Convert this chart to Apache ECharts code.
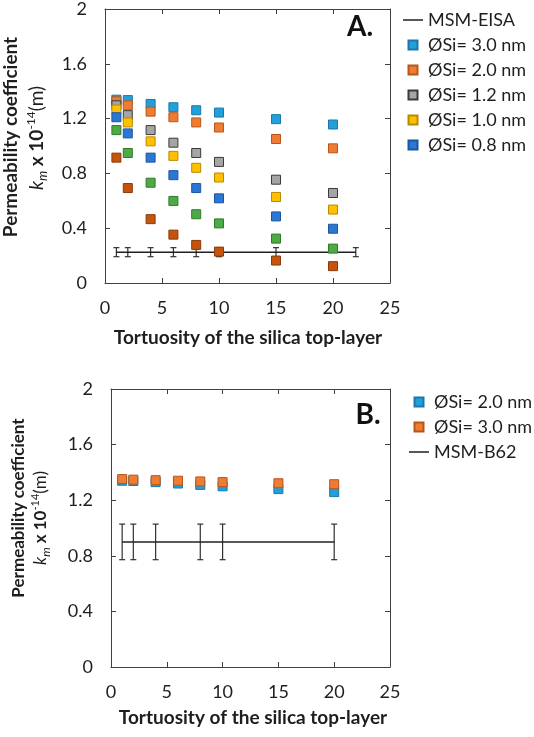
<!DOCTYPE html>
<html>
<head>
<meta charset="utf-8">
<script src="https://cdn.jsdelivr.net/npm/echarts@6/dist/echarts.min.js"></script>
<style>html,body{margin:0;padding:0;background:#fff}#c{width:534px;height:737px}</style>
</head>
<body>
<div id="c"></div>
<script>
// ---- Data: panel A ----
const xA = [1, 2, 4, 6, 8, 10, 15, 20];
const a30 = [1.338, 1.335, 1.307, 1.283, 1.261, 1.244, 1.196, 1.157];
const a20 = [1.326, 1.297, 1.251, 1.210, 1.172, 1.135, 1.051, 0.983];
const a12 = [1.297, 1.225, 1.116, 1.024, 0.949, 0.884, 0.754, 0.657];
const a10 = [1.266, 1.172, 1.034, 0.928, 0.841, 0.770, 0.628, 0.536];
const a08 = [1.210, 1.092, 0.915, 0.787, 0.693, 0.618, 0.486, 0.396];
const aGreen = [1.116, 0.949, 0.732, 0.599, 0.502, 0.435, 0.324, 0.251];
const aBrown = [0.915, 0.693, 0.466, 0.353, 0.278, 0.229, 0.164, 0.123];
const eisaX = [1, 22];
const eisaY = 0.225;
const eisaErrX = [1, 2, 4, 6, 8, 10, 15, 22];
const eisaErr = 0.033;

// ---- Data: panel B ----
const xB = [1, 2, 4, 6, 8, 10, 15, 20];
const b20 = [1.340, 1.338, 1.330, 1.320, 1.310, 1.300, 1.280, 1.258];
const b30 = [1.352, 1.348, 1.344, 1.340, 1.335, 1.330, 1.322, 1.315];
const b62X = [1, 20];
const b62Y = 0.90;
const b62ErrX = [1, 2, 4, 8, 10, 20];
const b62Err = 0.128;

// ---- Axis ticks ----
const xMin = 0, xMax = 25, xStep = 5;
const yMin = 0, yMax = 2, yStep = 0.4;

const FONT = 'Lato';
const AX = '#404040';
const TXT = '#1e1e1e';

function pts(xs, ys) { return xs.map((x, i) => [x, ys[i]]); }

function xAx(g, pos, lab) {
  return {
    type: 'value', gridIndex: g, position: pos, min: xMin, max: xMax, interval: xStep,
    axisLine: { show: true, onZero: false, lineStyle: { color: AX, width: 1 } },
    axisTick: { show: true, inside: true, length: 5, lineStyle: { color: AX, width: 1 } },
    axisLabel: { show: lab, fontFamily: FONT, fontSize: 18, color: TXT, margin: 16 },
    splitLine: { show: false }
  };
}
function yAx(g, pos, lab) {
  return {
    type: 'value', gridIndex: g, position: pos, min: yMin, max: yMax, interval: yStep,
    axisLine: { show: true, onZero: false, lineStyle: { color: AX, width: 1 } },
    axisTick: { show: true, inside: true, length: 5, lineStyle: { color: AX, width: 1 } },
    axisLabel: { show: lab, fontFamily: FONT, fontSize: 18, color: TXT, margin: 18 },
    splitLine: { show: false }
  };
}

function sq(name, data, color, border, xi, yi, z) {
  return {
    type: 'scatter', name: name, xAxisIndex: xi, yAxisIndex: yi, data: data,
    symbol: 'rect', symbolSize: 9, z: z || 3,
    itemStyle: { color: color, borderColor: border, borderWidth: 1, opacity: 1 }
  };
}

function errSeries(xs, y, e, xi, yi) {
  return {
    type: 'custom', xAxisIndex: xi, yAxisIndex: yi, z: 1, silent: true,
    data: xs.map(x => [x, y - e, y + e]),
    renderItem: function (params, api) {
      const lo = api.coord([api.value(0), api.value(1)]);
      const hi = api.coord([api.value(0), api.value(2)]);
      const w = 3;
      const st = { stroke: '#303030', lineWidth: 1.2 };
      return {
        type: 'group', children: [
          { type: 'line', shape: { x1: lo[0], y1: lo[1], x2: hi[0], y2: hi[1] }, style: st },
          { type: 'line', shape: { x1: lo[0] - w, y1: lo[1], x2: lo[0] + w, y2: lo[1] }, style: st },
          { type: 'line', shape: { x1: hi[0] - w, y1: hi[1], x2: hi[0] + w, y2: hi[1] }, style: st }
        ]
      };
    }
  };
}

const SQ = 'path://M0,0L10,0L10,10L0,10Z';
const LN = 'path://M0,0L40,0L40,3L0,3Z';
const lnItem = { color: '#202020', borderWidth: 0 };
const C30 = '#22A0DC', C30b = '#1a78a8';
const C20 = '#EE7D33', C20b = '#b8561a';
const C12 = '#A5A5A5', C12b = '#3a3a3a';
const C10 = '#FFC000', C10b = '#b88a00';
const C08 = '#2B77D4', C08b = '#1d55a0';
const CGr = '#4EAA46', CGrb = '#2e7a2a';
const CBr = '#C4540E', CBrb = '#8a3a08';

const legendText = { fontFamily: FONT, fontSize: 18, color: TXT, lineHeight: 20 };

const rich1 = {
  k: { fontFamily: FONT, fontSize: 19, fontStyle: 'italic', fill: TXT, lineHeight: 24 },
  m: { fontFamily: FONT, fontSize: 13, fontStyle: 'italic', fill: TXT, verticalAlign: 'bottom', lineHeight: 14 },
  t: { fontFamily: FONT, fontSize: 19, fontWeight: 'bold', fill: TXT, lineHeight: 24 },
  s: { fontFamily: FONT, fontSize: 12, fill: TXT, verticalAlign: 'top', lineHeight: 14 },
  u: { fontFamily: FONT, fontSize: 19, fill: TXT, lineHeight: 24 }
};
const rich2 = {
  k: { fontFamily: FONT, fontSize: 17, fontStyle: 'italic', fill: TXT, lineHeight: 22 },
  m: { fontFamily: FONT, fontSize: 12, fontStyle: 'italic', fill: TXT, verticalAlign: 'bottom', lineHeight: 13 },
  t: { fontFamily: FONT, fontSize: 17, fontWeight: 'bold', fill: TXT, lineHeight: 22 },
  s: { fontFamily: FONT, fontSize: 11, fill: TXT, verticalAlign: 'top', lineHeight: 13 },
  u: { fontFamily: FONT, fontSize: 17, fill: TXT, lineHeight: 22 }
};
const kmText = '{k|k}{m|m}{t| x 10}{s|-14}{u|(m)}';

const option = {
  animation: false,
  backgroundColor: '#fff',
  grid: [
    { left: 105, top: 7, width: 285, height: 276 },
    { left: 111, top: 389, width: 279, height: 278 }
  ],
  xAxis: [xAx(0, 'bottom', true), xAx(0, 'top', false), xAx(1, 'bottom', true), xAx(1, 'top', false)],
  yAxis: [yAx(0, 'left', true), yAx(0, 'right', false), yAx(1, 'left', true), yAx(1, 'right', false)],
  legend: [
    {
      left: 403, top: 10, orient: 'vertical', itemWidth: 20, itemHeight: 9, itemGap: 5,
      textStyle: legendText, padding: 0,
      data: [
        { name: 'MSM-EISA', icon: LN, itemStyle: lnItem },
        { name: 'ØSi= 3.0 nm', icon: SQ },
        { name: 'ØSi= 2.0 nm', icon: SQ },
        { name: 'ØSi= 1.2 nm', icon: SQ },
        { name: 'ØSi= 1.0 nm', icon: SQ },
        { name: 'ØSi= 0.8 nm', icon: SQ }
      ]
    },
    {
      left: 409, top: 392, orient: 'vertical', itemWidth: 20, itemHeight: 9, itemGap: 5,
      textStyle: legendText, padding: 0,
      formatter: function (n) { return n.trim(); },
      data: [
        { name: 'ØSi= 2.0 nm ', icon: SQ },
        { name: 'ØSi= 3.0 nm ', icon: SQ },
        { name: 'MSM-B62 ', icon: LN, itemStyle: lnItem }
      ]
    }
  ],
  series: [
    errSeries(eisaErrX, eisaY, eisaErr, 0, 0),
    {
      type: 'line', name: 'MSM-EISA', xAxisIndex: 0, yAxisIndex: 0, z: 1,
      data: eisaX.map(x => [x, eisaY]), symbol: 'none',
      lineStyle: { color: '#202020', width: 1.5 }, itemStyle: { color: '#202020' }
    },
    sq('ØSi= 3.0 nm', pts(xA, a30), C30, C30b, 0, 0),
    sq('ØSi= 2.0 nm', pts(xA, a20), C20, C20b, 0, 0),
    sq('ØSi= 1.2 nm', pts(xA, a12), C12, C12b, 0, 0),
    sq('ØSi= 1.0 nm', pts(xA, a10), C10, C10b, 0, 0),
    sq('ØSi= 0.8 nm', pts(xA, a08), C08, C08b, 0, 0),
    sq('ØSi= 0.6 nm', pts(xA, aGreen), CGr, CGrb, 0, 0),
    sq('ØSi= 0.5 nm', pts(xA, aBrown), CBr, CBrb, 0, 0),

    errSeries(b62ErrX, b62Y, b62Err, 2, 2),
    {
      type: 'line', name: 'MSM-B62 ', xAxisIndex: 2, yAxisIndex: 2, z: 1,
      data: b62X.map(x => [x, b62Y]), symbol: 'none',
      lineStyle: { color: '#202020', width: 1.5 }, itemStyle: { color: '#202020' }
    },
    sq('ØSi= 2.0 nm ', pts(xB, b20), C30, C30b, 2, 2),
    sq('ØSi= 3.0 nm ', pts(xB, b30), C20, C20b, 2, 2)
  ],
  graphic: [
    { type: 'text', x: 360, y: 27, style: { text: 'A.', fontFamily: FONT, fontSize: 28, fontWeight: 'bold', fill: '#111', align: 'center', verticalAlign: 'middle' } },
    { type: 'text', x: 368, y: 415, style: { text: 'B.', fontFamily: FONT, fontSize: 28, fontWeight: 'bold', fill: '#111', align: 'center', verticalAlign: 'middle' } },
    { type: 'text', x: 248, y: 338, style: { text: 'Tortuosity of the silica top-layer', fontFamily: FONT, fontSize: 19, fontWeight: 'bold', fill: TXT, align: 'center', verticalAlign: 'middle' } },
    { type: 'text', x: 253, y: 718, style: { text: 'Tortuosity of the silica top-layer', fontFamily: FONT, fontSize: 19, fontWeight: 'bold', fill: TXT, align: 'center', verticalAlign: 'middle' } },
    { type: 'text', x: 11, y: 137, rotation: Math.PI / 2, style: { text: 'Permeability coefficient', fontFamily: FONT, fontSize: 19, fontWeight: 'bold', fill: TXT, align: 'center', verticalAlign: 'middle' } },
    { type: 'text', x: 37, y: 138, rotation: Math.PI / 2, style: { text: kmText, rich: rich1, fill: TXT, align: 'center', verticalAlign: 'middle' } },
    { type: 'text', x: 19, y: 508, rotation: Math.PI / 2, style: { text: 'Permeability coefficient', fontFamily: FONT, fontSize: 17, fontWeight: 'bold', fill: TXT, align: 'center', verticalAlign: 'middle' } },
    { type: 'text', x: 41, y: 518, rotation: Math.PI / 2, style: { text: kmText, rich: rich2, fill: TXT, align: 'center', verticalAlign: 'middle' } }
  ]
};

const chart = echarts.init(document.getElementById('c'), null, { renderer: 'canvas' });
chart.setOption(option);
</script>
</body>
</html>
